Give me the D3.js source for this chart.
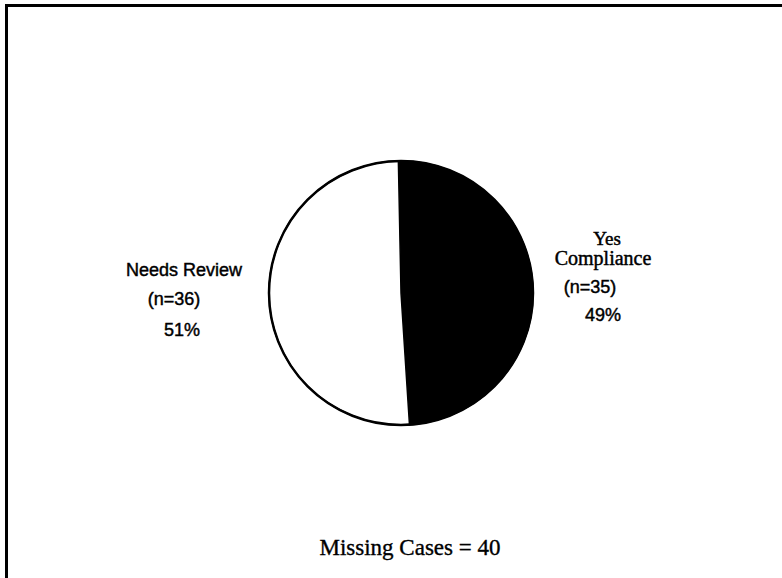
<!DOCTYPE html>
<html lang="en">
<head>
  <meta charset="UTF-8">
  <title>Compliance Pie</title>
  <script src="https://d3js.org/d3.v7.min.js"></script>
  <style>
    html, body { margin: 0; padding: 0; background: #fff; }
  </style>
</head>
<body>
  <div id="chart"></div>
  <script>
    // data
    const categories = ["Yes Compliance", "Needs Review"];
    const counts = [35, 36];
    const percents = ["49%", "51%"];
    const sliceColors = ["#000", "#fff"];
    const missingCases = 40;

    const width = 782, height = 578;
    const svg = d3.select("#chart").append("svg")
      .attr("width", width)
      .attr("height", height);

    // frame (top and left edges only visible)
    svg.append("path")
      .attr("d", `M6.5,${height} L6.5,5.5 L${width},5.5`)
      .attr("fill", "none")
      .attr("stroke", "#000")
      .attr("stroke-width", 3);

    const cx = 401, cy = 293, r = 132;
    const pie = d3.pie().sort(null).value(d => d).startAngle(-0.02).endAngle(2 * Math.PI - 0.02);
    const arc = d3.arc().innerRadius(0).outerRadius(r);

    const g = svg.append("g").attr("transform", `translate(${cx},${cy})`);
    g.selectAll("path.slice")
      .data(pie(counts))
      .join("path")
      .attr("class", "slice")
      .attr("d", arc)
      .attr("fill", (d, i) => sliceColors[i])
      .attr("stroke", "#000")
      .attr("stroke-width", 1.5);
    g.append("circle")
      .attr("r", r)
      .attr("fill", "none")
      .attr("stroke", "#000")
      .attr("stroke-width", 2.5);

    const sans = "'Liberation Sans', Arial, sans-serif";
    const serif = "'Liberation Serif', 'Times New Roman', serif";

    // right label (Yes Compliance)
    const rightLines = [
      { t: "Yes", x: 607, y: 245, f: serif, s: 19 },
      { t: "Compliance", x: 603, y: 265, f: serif, s: 20 },
      { t: `(n=${counts[0]})`, x: 590, y: 293, f: sans, s: 18 },
      { t: percents[0], x: 603, y: 321, f: sans, s: 18 }
    ];
    // left label (Needs Review)
    const leftLines = [
      { t: categories[1], x: 184, y: 276, f: sans, s: 18 },
      { t: `(n=${counts[1]})`, x: 174, y: 305, f: sans, s: 18 },
      { t: percents[1], x: 182, y: 336, f: sans, s: 18 }
    ];
    svg.selectAll("text.lbl")
      .data(rightLines.concat(leftLines))
      .join("text")
      .attr("class", "lbl")
      .attr("x", d => d.x)
      .attr("y", d => d.y)
      .attr("text-anchor", "middle")
      .attr("font-family", d => d.f)
      .attr("font-size", d => d.s)
      .attr("fill", "#000")
      .attr("stroke", "#000")
      .attr("stroke-width", 0.45)
      .text(d => d.t);

    svg.append("text")
      .attr("x", 410)
      .attr("y", 555)
      .attr("text-anchor", "middle")
      .attr("font-family", serif)
      .attr("font-size", 23)
      .attr("fill", "#000")
      .attr("stroke", "#000")
      .attr("stroke-width", 0.35)
      .text(`Missing Cases = ${missingCases}`);
  </script>
</body>
</html>
